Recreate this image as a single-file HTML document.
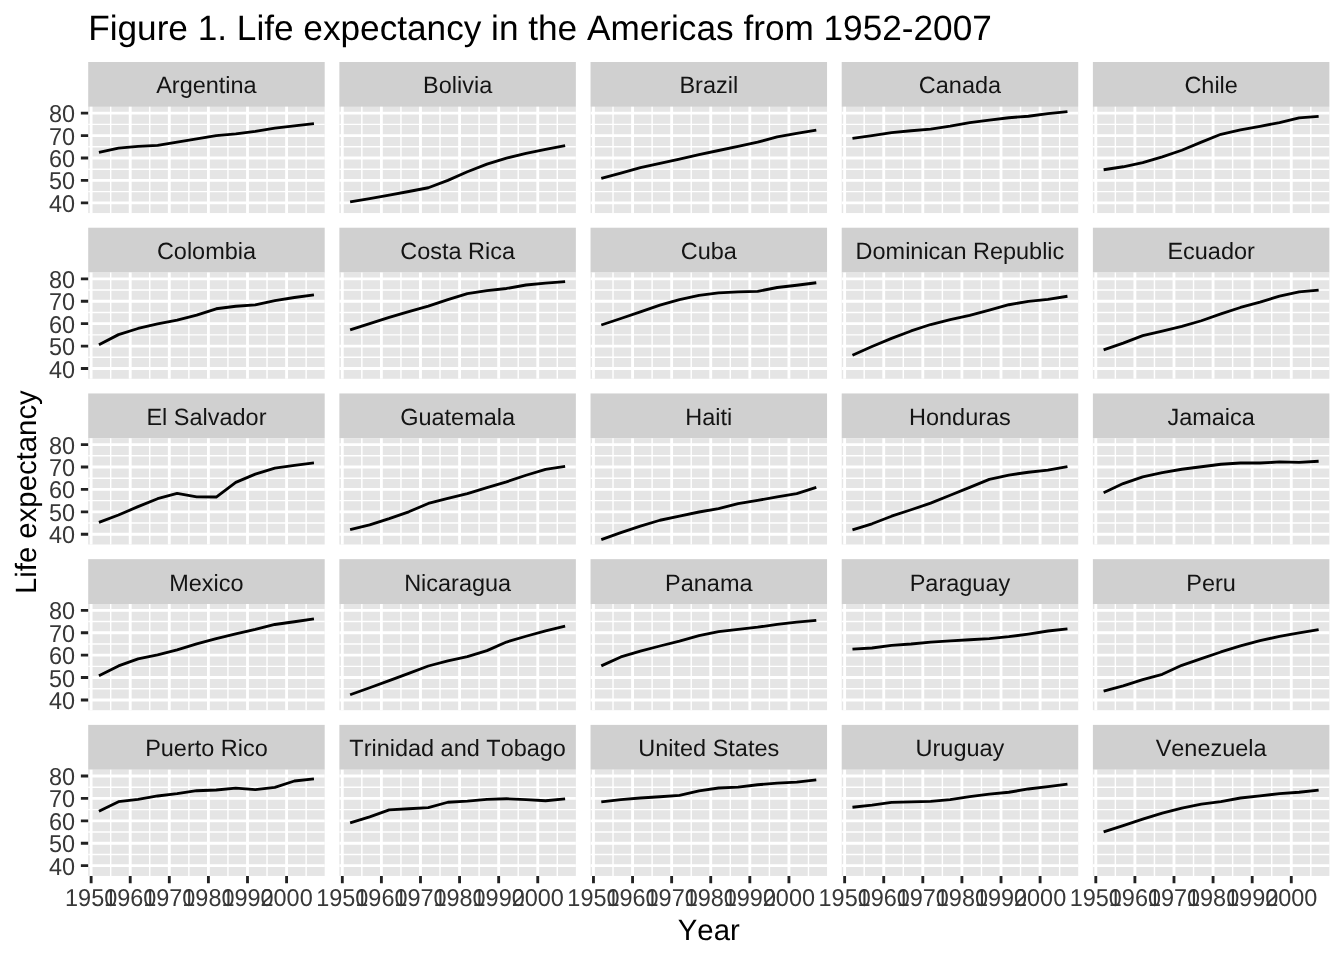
<!DOCTYPE html>
<html><head><meta charset="utf-8"><title>Figure 1. Life expectancy in the Americas from 1952-2007</title>
<style>
html,body{margin:0;padding:0;background:#fff;}
body{width:1344px;height:960px;overflow:hidden;}
svg{display:block;font-family:'Liberation Sans', Arial, Helvetica, sans-serif;will-change:transform;text-rendering:geometricPrecision;font-kerning:none;font-feature-settings:"kern" 0;}
</style></head><body>
<svg width="1344" height="960" viewBox="0 0 1344 960">
<rect x="0" y="0" width="1344" height="960" fill="#FFFFFF"/>
<text x="88.2" y="39.9" font-size="35.2" fill="#000">Figure 1. Life expectancy in the Americas from 1952-2007</text>
<g><rect x="88.2" y="62" width="236.5" height="44.85" fill="#D0D0D0"/><text x="206.45" y="93" font-size="23.47" fill="#141414" text-anchor="middle">Argentina</text><rect x="88.2" y="106.85" width="236.5" height="106.2" fill="#E5E5E5"/><path d="M88.2 191.59H324.7M88.2 169.18H324.7M88.2 146.76H324.7M88.2 124.35H324.7M110.68 106.85V213.05M149.77 106.85V213.05M188.86 106.85V213.05M227.95 106.85V213.05M267.04 106.85V213.05M306.13 106.85V213.05" stroke="#FFFFFF" stroke-width="1.42" fill="none"/><path d="M88.2 202.8H324.7M88.2 180.38H324.7M88.2 157.97H324.7M88.2 135.55H324.7M88.2 113.14H324.7M91.13 106.85V213.05M130.22 106.85V213.05M169.31 106.85V213.05M208.4 106.85V213.05M247.5 106.85V213.05M286.59 106.85V213.05" stroke="#FFFFFF" stroke-width="2.84" fill="none"/><polyline points="98.95,152.4 118.5,148.11 138.04,146.44 157.59,145.34 177.13,142.13 196.68,138.96 216.22,135.68 235.77,133.82 255.31,131.37 274.86,128.21 294.4,125.83 313.95,123.63" stroke="#000000" stroke-width="2.84" fill="none" stroke-linejoin="round" stroke-linecap="butt"/><text transform="translate(75 212) scale(1 1.04)" font-size="23.47" fill="#383838" text-anchor="end">40</text><text transform="translate(75 189) scale(1 1.04)" font-size="23.47" fill="#383838" text-anchor="end">50</text><text transform="translate(75 167) scale(1 1.04)" font-size="23.47" fill="#383838" text-anchor="end">60</text><text transform="translate(75 145) scale(1 1.04)" font-size="23.47" fill="#383838" text-anchor="end">70</text><text transform="translate(75 122) scale(1 1.04)" font-size="23.47" fill="#383838" text-anchor="end">80</text><path d="M80.87 202.8H88.2M80.87 180.38H88.2M80.87 157.97H88.2M80.87 135.55H88.2M80.87 113.14H88.2" stroke="#222222" stroke-width="2.84" fill="none"/></g>
<g><rect x="339.37" y="62" width="236.5" height="44.85" fill="#D0D0D0"/><text x="457.62" y="93" font-size="23.47" fill="#141414" text-anchor="middle">Bolivia</text><rect x="339.37" y="106.85" width="236.5" height="106.2" fill="#E5E5E5"/><path d="M339.37 191.59H575.87M339.37 169.18H575.87M339.37 146.76H575.87M339.37 124.35H575.87M361.85 106.85V213.05M400.94 106.85V213.05M440.03 106.85V213.05M479.12 106.85V213.05M518.21 106.85V213.05M557.3 106.85V213.05" stroke="#FFFFFF" stroke-width="1.42" fill="none"/><path d="M339.37 202.8H575.87M339.37 180.38H575.87M339.37 157.97H575.87M339.37 135.55H575.87M339.37 113.14H575.87M342.3 106.85V213.05M381.39 106.85V213.05M420.48 106.85V213.05M459.57 106.85V213.05M498.67 106.85V213.05M537.76 106.85V213.05" stroke="#FFFFFF" stroke-width="2.84" fill="none"/><polyline points="350.12,201.87 369.67,198.56 389.21,195.11 408.76,191.52 428.3,187.75 447.85,180.33 467.39,171.73 486.94,164.13 506.48,158.06 526.03,153.37 545.57,149.27 565.12,145.52" stroke="#000000" stroke-width="2.84" fill="none" stroke-linejoin="round" stroke-linecap="butt"/></g>
<g><rect x="590.54" y="62" width="236.5" height="44.85" fill="#D0D0D0"/><text x="708.79" y="93" font-size="23.47" fill="#141414" text-anchor="middle">Brazil</text><rect x="590.54" y="106.85" width="236.5" height="106.2" fill="#E5E5E5"/><path d="M590.54 191.59H827.04M590.54 169.18H827.04M590.54 146.76H827.04M590.54 124.35H827.04M613.02 106.85V213.05M652.11 106.85V213.05M691.2 106.85V213.05M730.29 106.85V213.05M769.38 106.85V213.05M808.47 106.85V213.05" stroke="#FFFFFF" stroke-width="1.42" fill="none"/><path d="M590.54 202.8H827.04M590.54 180.38H827.04M590.54 157.97H827.04M590.54 135.55H827.04M590.54 113.14H827.04M593.47 106.85V213.05M632.56 106.85V213.05M671.65 106.85V213.05M710.74 106.85V213.05M749.84 106.85V213.05M788.93 106.85V213.05" stroke="#FFFFFF" stroke-width="2.84" fill="none"/><polyline points="601.29,178.33 620.84,173.02 640.38,167.69 659.93,163.28 679.47,159.08 699.02,154.63 718.56,150.49 738.11,146.3 757.65,142.15 777.2,136.93 796.74,133.3 816.29,130.2" stroke="#000000" stroke-width="2.84" fill="none" stroke-linejoin="round" stroke-linecap="butt"/></g>
<g><rect x="841.71" y="62" width="236.5" height="44.85" fill="#D0D0D0"/><text x="959.96" y="93" font-size="23.47" fill="#141414" text-anchor="middle">Canada</text><rect x="841.71" y="106.85" width="236.5" height="106.2" fill="#E5E5E5"/><path d="M841.71 191.59H1078.21M841.71 169.18H1078.21M841.71 146.76H1078.21M841.71 124.35H1078.21M864.19 106.85V213.05M903.28 106.85V213.05M942.37 106.85V213.05M981.46 106.85V213.05M1020.55 106.85V213.05M1059.64 106.85V213.05" stroke="#FFFFFF" stroke-width="1.42" fill="none"/><path d="M841.71 202.8H1078.21M841.71 180.38H1078.21M841.71 157.97H1078.21M841.71 135.55H1078.21M841.71 113.14H1078.21M844.64 106.85V213.05M883.73 106.85V213.05M922.82 106.85V213.05M961.91 106.85V213.05M1001.01 106.85V213.05M1040.1 106.85V213.05" stroke="#FFFFFF" stroke-width="2.84" fill="none"/><polyline points="852.46,138.36 872.01,135.64 891.55,132.64 911.1,130.78 930.64,129.1 950.19,126.12 969.73,122.64 989.28,120.18 1008.82,117.74 1028.37,116.26 1047.91,113.66 1067.46,111.68" stroke="#000000" stroke-width="2.84" fill="none" stroke-linejoin="round" stroke-linecap="butt"/></g>
<g><rect x="1092.88" y="62" width="236.5" height="44.85" fill="#D0D0D0"/><text x="1211.13" y="93" font-size="23.47" fill="#141414" text-anchor="middle">Chile</text><rect x="1092.88" y="106.85" width="236.5" height="106.2" fill="#E5E5E5"/><path d="M1092.88 191.59H1329.38M1092.88 169.18H1329.38M1092.88 146.76H1329.38M1092.88 124.35H1329.38M1115.36 106.85V213.05M1154.45 106.85V213.05M1193.54 106.85V213.05M1232.63 106.85V213.05M1271.72 106.85V213.05M1310.81 106.85V213.05" stroke="#FFFFFF" stroke-width="1.42" fill="none"/><path d="M1092.88 202.8H1329.38M1092.88 180.38H1329.38M1092.88 157.97H1329.38M1092.88 135.55H1329.38M1092.88 113.14H1329.38M1095.81 106.85V213.05M1134.9 106.85V213.05M1173.99 106.85V213.05M1213.08 106.85V213.05M1252.18 106.85V213.05M1291.27 106.85V213.05" stroke="#FFFFFF" stroke-width="2.84" fill="none"/><polyline points="1103.63,169.75 1123.18,166.77 1142.72,162.62 1162.27,156.8 1181.81,150.26 1201.36,142.16 1220.9,134.29 1240.45,129.97 1259.99,126.31 1279.54,122.52 1299.08,117.94 1318.63,116.38" stroke="#000000" stroke-width="2.84" fill="none" stroke-linejoin="round" stroke-linecap="butt"/></g>
<g><rect x="88.2" y="227.72" width="236.5" height="44.85" fill="#D0D0D0"/><text x="206.45" y="259" font-size="23.47" fill="#141414" text-anchor="middle">Colombia</text><rect x="88.2" y="272.57" width="236.5" height="106.2" fill="#E5E5E5"/><path d="M88.2 357.31H324.7M88.2 334.9H324.7M88.2 312.48H324.7M88.2 290.07H324.7M110.68 272.57V378.77M149.77 272.57V378.77M188.86 272.57V378.77M227.95 272.57V378.77M267.04 272.57V378.77M306.13 272.57V378.77" stroke="#FFFFFF" stroke-width="1.42" fill="none"/><path d="M88.2 368.52H324.7M88.2 346.1H324.7M88.2 323.69H324.7M88.2 301.27H324.7M88.2 278.86H324.7M91.13 272.57V378.77M130.22 272.57V378.77M169.31 272.57V378.77M208.4 272.57V378.77M247.5 272.57V378.77M286.59 272.57V378.77" stroke="#FFFFFF" stroke-width="2.84" fill="none"/><polyline points="98.95,344.66 118.5,334.63 138.04,328.48 157.59,323.77 177.13,320.05 196.68,315.09 216.22,308.78 235.77,306.28 255.31,304.81 274.86,300.57 294.4,297.5 313.95,294.8" stroke="#000000" stroke-width="2.84" fill="none" stroke-linejoin="round" stroke-linecap="butt"/><text transform="translate(75 378) scale(1 1.04)" font-size="23.47" fill="#383838" text-anchor="end">40</text><text transform="translate(75 355) scale(1 1.04)" font-size="23.47" fill="#383838" text-anchor="end">50</text><text transform="translate(75 333) scale(1 1.04)" font-size="23.47" fill="#383838" text-anchor="end">60</text><text transform="translate(75 310) scale(1 1.04)" font-size="23.47" fill="#383838" text-anchor="end">70</text><text transform="translate(75 288) scale(1 1.04)" font-size="23.47" fill="#383838" text-anchor="end">80</text><path d="M80.87 368.52H88.2M80.87 346.1H88.2M80.87 323.69H88.2M80.87 301.27H88.2M80.87 278.86H88.2" stroke="#222222" stroke-width="2.84" fill="none"/></g>
<g><rect x="339.37" y="227.72" width="236.5" height="44.85" fill="#D0D0D0"/><text x="457.62" y="259" font-size="23.47" fill="#141414" text-anchor="middle">Costa Rica</text><rect x="339.37" y="272.57" width="236.5" height="106.2" fill="#E5E5E5"/><path d="M339.37 357.31H575.87M339.37 334.9H575.87M339.37 312.48H575.87M339.37 290.07H575.87M361.85 272.57V378.77M400.94 272.57V378.77M440.03 272.57V378.77M479.12 272.57V378.77M518.21 272.57V378.77M557.3 272.57V378.77" stroke="#FFFFFF" stroke-width="1.42" fill="none"/><path d="M339.37 368.52H575.87M339.37 346.1H575.87M339.37 323.69H575.87M339.37 301.27H575.87M339.37 278.86H575.87M342.3 272.57V378.77M381.39 272.57V378.77M420.48 272.57V378.77M459.57 272.57V378.77M498.67 272.57V378.77M537.76 272.57V378.77" stroke="#FFFFFF" stroke-width="2.84" fill="none"/><polyline points="350.12,329.95 369.67,323.63 389.21,317.32 408.76,311.53 428.3,306.1 447.85,299.59 467.39,293.54 486.94,290.62 506.48,288.47 526.03,285 545.57,283.07 565.12,281.59" stroke="#000000" stroke-width="2.84" fill="none" stroke-linejoin="round" stroke-linecap="butt"/></g>
<g><rect x="590.54" y="227.72" width="236.5" height="44.85" fill="#D0D0D0"/><text x="708.79" y="259" font-size="23.47" fill="#141414" text-anchor="middle">Cuba</text><rect x="590.54" y="272.57" width="236.5" height="106.2" fill="#E5E5E5"/><path d="M590.54 357.31H827.04M590.54 334.9H827.04M590.54 312.48H827.04M590.54 290.07H827.04M613.02 272.57V378.77M652.11 272.57V378.77M691.2 272.57V378.77M730.29 272.57V378.77M769.38 272.57V378.77M808.47 272.57V378.77" stroke="#FFFFFF" stroke-width="1.42" fill="none"/><path d="M590.54 368.52H827.04M590.54 346.1H827.04M590.54 323.69H827.04M590.54 301.27H827.04M590.54 278.86H827.04M593.47 272.57V378.77M632.56 272.57V378.77M671.65 272.57V378.77M710.74 272.57V378.77M749.84 272.57V378.77M788.93 272.57V378.77" stroke="#FFFFFF" stroke-width="2.84" fill="none"/><polyline points="601.29,324.99 620.84,318.48 640.38,311.93 659.93,305.11 679.47,299.65 699.02,295.34 718.56,292.94 738.11,291.92 757.65,291.38 777.2,287.49 796.74,285.23 816.29,282.73" stroke="#000000" stroke-width="2.84" fill="none" stroke-linejoin="round" stroke-linecap="butt"/></g>
<g><rect x="841.71" y="227.72" width="236.5" height="44.85" fill="#D0D0D0"/><text x="959.96" y="259" font-size="23.47" fill="#141414" text-anchor="middle">Dominican Republic</text><rect x="841.71" y="272.57" width="236.5" height="106.2" fill="#E5E5E5"/><path d="M841.71 357.31H1078.21M841.71 334.9H1078.21M841.71 312.48H1078.21M841.71 290.07H1078.21M864.19 272.57V378.77M903.28 272.57V378.77M942.37 272.57V378.77M981.46 272.57V378.77M1020.55 272.57V378.77M1059.64 272.57V378.77" stroke="#FFFFFF" stroke-width="1.42" fill="none"/><path d="M841.71 368.52H1078.21M841.71 346.1H1078.21M841.71 323.69H1078.21M841.71 301.27H1078.21M841.71 278.86H1078.21M844.64 272.57V378.77M883.73 272.57V378.77M922.82 272.57V378.77M961.91 272.57V378.77M1001.01 272.57V378.77M1040.1 272.57V378.77" stroke="#FFFFFF" stroke-width="2.84" fill="none"/><polyline points="852.46,355.23 872.01,346.49 891.55,338.35 911.1,330.97 930.64,324.52 950.19,319.68 969.73,315.33 989.28,310.14 1008.82,304.73 1028.37,301.37 1047.91,299.38 1067.46,296.27" stroke="#000000" stroke-width="2.84" fill="none" stroke-linejoin="round" stroke-linecap="butt"/></g>
<g><rect x="1092.88" y="227.72" width="236.5" height="44.85" fill="#D0D0D0"/><text x="1211.13" y="259" font-size="23.47" fill="#141414" text-anchor="middle">Ecuador</text><rect x="1092.88" y="272.57" width="236.5" height="106.2" fill="#E5E5E5"/><path d="M1092.88 357.31H1329.38M1092.88 334.9H1329.38M1092.88 312.48H1329.38M1092.88 290.07H1329.38M1115.36 272.57V378.77M1154.45 272.57V378.77M1193.54 272.57V378.77M1232.63 272.57V378.77M1271.72 272.57V378.77M1310.81 272.57V378.77" stroke="#FFFFFF" stroke-width="1.42" fill="none"/><path d="M1092.88 368.52H1329.38M1092.88 346.1H1329.38M1092.88 323.69H1329.38M1092.88 301.27H1329.38M1092.88 278.86H1329.38M1095.81 272.57V378.77M1134.9 272.57V378.77M1173.99 272.57V378.77M1213.08 272.57V378.77M1252.18 272.57V378.77M1291.27 272.57V378.77" stroke="#FFFFFF" stroke-width="2.84" fill="none"/><polyline points="1103.63,349.79 1123.18,343.06 1142.72,335.7 1162.27,331.13 1181.81,326.39 1201.36,320.75 1220.9,313.96 1240.45,307.48 1259.99,302.14 1279.54,296.09 1299.08,291.92 1318.63,290.08" stroke="#000000" stroke-width="2.84" fill="none" stroke-linejoin="round" stroke-linecap="butt"/></g>
<g><rect x="88.2" y="393.44" width="236.5" height="44.85" fill="#D0D0D0"/><text x="206.45" y="425" font-size="23.47" fill="#141414" text-anchor="middle">El Salvador</text><rect x="88.2" y="438.29" width="236.5" height="106.2" fill="#E5E5E5"/><path d="M88.2 523.03H324.7M88.2 500.62H324.7M88.2 478.2H324.7M88.2 455.79H324.7M110.68 438.29V544.49M149.77 438.29V544.49M188.86 438.29V544.49M227.95 438.29V544.49M267.04 438.29V544.49M306.13 438.29V544.49" stroke="#FFFFFF" stroke-width="1.42" fill="none"/><path d="M88.2 534.24H324.7M88.2 511.82H324.7M88.2 489.41H324.7M88.2 466.99H324.7M88.2 444.58H324.7M91.13 438.29V544.49M130.22 438.29V544.49M169.31 438.29V544.49M208.4 438.29V544.49M247.5 438.29V544.49M286.59 438.29V544.49" stroke="#FFFFFF" stroke-width="2.84" fill="none"/><polyline points="98.95,522.44 118.5,515.03 138.04,506.65 157.59,498.7 177.13,493.43 196.68,496.81 216.22,497.02 235.77,482.34 255.31,474.17 274.86,468.04 294.4,465.35 313.95,462.79" stroke="#000000" stroke-width="2.84" fill="none" stroke-linejoin="round" stroke-linecap="butt"/><text transform="translate(75 543) scale(1 1.04)" font-size="23.47" fill="#383838" text-anchor="end">40</text><text transform="translate(75 521) scale(1 1.04)" font-size="23.47" fill="#383838" text-anchor="end">50</text><text transform="translate(75 498) scale(1 1.04)" font-size="23.47" fill="#383838" text-anchor="end">60</text><text transform="translate(75 476) scale(1 1.04)" font-size="23.47" fill="#383838" text-anchor="end">70</text><text transform="translate(75 454) scale(1 1.04)" font-size="23.47" fill="#383838" text-anchor="end">80</text><path d="M80.87 534.24H88.2M80.87 511.82H88.2M80.87 489.41H88.2M80.87 466.99H88.2M80.87 444.58H88.2" stroke="#222222" stroke-width="2.84" fill="none"/></g>
<g><rect x="339.37" y="393.44" width="236.5" height="44.85" fill="#D0D0D0"/><text x="457.62" y="425" font-size="23.47" fill="#141414" text-anchor="middle">Guatemala</text><rect x="339.37" y="438.29" width="236.5" height="106.2" fill="#E5E5E5"/><path d="M339.37 523.03H575.87M339.37 500.62H575.87M339.37 478.2H575.87M339.37 455.79H575.87M361.85 438.29V544.49M400.94 438.29V544.49M440.03 438.29V544.49M479.12 438.29V544.49M518.21 438.29V544.49M557.3 438.29V544.49" stroke="#FFFFFF" stroke-width="1.42" fill="none"/><path d="M339.37 534.24H575.87M339.37 511.82H575.87M339.37 489.41H575.87M339.37 466.99H575.87M339.37 444.58H575.87M342.3 438.29V544.49M381.39 438.29V544.49M420.48 438.29V544.49M459.57 438.29V544.49M498.67 438.29V544.49M537.76 438.29V544.49" stroke="#FFFFFF" stroke-width="2.84" fill="none"/><polyline points="350.12,529.7 369.67,524.95 389.21,518.65 408.76,511.79 428.3,503.44 447.85,498.31 467.39,493.58 486.94,487.66 506.48,481.85 526.03,475.24 545.57,469.29 565.12,466.41" stroke="#000000" stroke-width="2.84" fill="none" stroke-linejoin="round" stroke-linecap="butt"/></g>
<g><rect x="590.54" y="393.44" width="236.5" height="44.85" fill="#D0D0D0"/><text x="708.79" y="425" font-size="23.47" fill="#141414" text-anchor="middle">Haiti</text><rect x="590.54" y="438.29" width="236.5" height="106.2" fill="#E5E5E5"/><path d="M590.54 523.03H827.04M590.54 500.62H827.04M590.54 478.2H827.04M590.54 455.79H827.04M613.02 438.29V544.49M652.11 438.29V544.49M691.2 438.29V544.49M730.29 438.29V544.49M769.38 438.29V544.49M808.47 438.29V544.49" stroke="#FFFFFF" stroke-width="1.42" fill="none"/><path d="M590.54 534.24H827.04M590.54 511.82H827.04M590.54 489.41H827.04M590.54 466.99H827.04M590.54 444.58H827.04M593.47 438.29V544.49M632.56 438.29V544.49M671.65 438.29V544.49M710.74 438.29V544.49M749.84 438.29V544.49M788.93 438.29V544.49" stroke="#FFFFFF" stroke-width="2.84" fill="none"/><polyline points="601.29,539.66 620.84,532.68 640.38,526.19 659.93,520.24 679.47,516.21 699.02,512 718.56,508.55 738.11,503.67 757.65,500.42 777.2,496.87 796.74,493.58 816.29,487.36" stroke="#000000" stroke-width="2.84" fill="none" stroke-linejoin="round" stroke-linecap="butt"/></g>
<g><rect x="841.71" y="393.44" width="236.5" height="44.85" fill="#D0D0D0"/><text x="959.96" y="425" font-size="23.47" fill="#141414" text-anchor="middle">Honduras</text><rect x="841.71" y="438.29" width="236.5" height="106.2" fill="#E5E5E5"/><path d="M841.71 523.03H1078.21M841.71 500.62H1078.21M841.71 478.2H1078.21M841.71 455.79H1078.21M864.19 438.29V544.49M903.28 438.29V544.49M942.37 438.29V544.49M981.46 438.29V544.49M1020.55 438.29V544.49M1059.64 438.29V544.49" stroke="#FFFFFF" stroke-width="1.42" fill="none"/><path d="M841.71 534.24H1078.21M841.71 511.82H1078.21M841.71 489.41H1078.21M841.71 466.99H1078.21M841.71 444.58H1078.21M844.64 438.29V544.49M883.73 438.29V544.49M922.82 438.29V544.49M961.91 438.29V544.49M1001.01 438.29V544.49M1040.1 438.29V544.49" stroke="#FFFFFF" stroke-width="2.84" fill="none"/><polyline points="852.46,529.95 872.01,523.78 891.55,516.21 911.1,509.75 930.64,503.12 950.19,495.23 969.73,487.37 989.28,479.34 1008.82,475.07 1028.37,472.24 1047.91,470.21 1067.46,466.55" stroke="#000000" stroke-width="2.84" fill="none" stroke-linejoin="round" stroke-linecap="butt"/></g>
<g><rect x="1092.88" y="393.44" width="236.5" height="44.85" fill="#D0D0D0"/><text x="1211.13" y="425" font-size="23.47" fill="#141414" text-anchor="middle">Jamaica</text><rect x="1092.88" y="438.29" width="236.5" height="106.2" fill="#E5E5E5"/><path d="M1092.88 523.03H1329.38M1092.88 500.62H1329.38M1092.88 478.2H1329.38M1092.88 455.79H1329.38M1115.36 438.29V544.49M1154.45 438.29V544.49M1193.54 438.29V544.49M1232.63 438.29V544.49M1271.72 438.29V544.49M1310.81 438.29V544.49" stroke="#FFFFFF" stroke-width="1.42" fill="none"/><path d="M1092.88 534.24H1329.38M1092.88 511.82H1329.38M1092.88 489.41H1329.38M1092.88 466.99H1329.38M1092.88 444.58H1329.38M1095.81 438.29V544.49M1134.9 438.29V544.49M1173.99 438.29V544.49M1213.08 438.29V544.49M1252.18 438.29V544.49M1291.27 438.29V544.49" stroke="#FFFFFF" stroke-width="2.84" fill="none"/><polyline points="1103.63,492.7 1123.18,483.56 1142.72,476.83 1162.27,472.58 1181.81,469.24 1201.36,466.75 1220.9,464.28 1240.45,463.03 1259.99,463.04 1279.54,461.92 1299.08,462.41 1318.63,461.24" stroke="#000000" stroke-width="2.84" fill="none" stroke-linejoin="round" stroke-linecap="butt"/></g>
<g><rect x="88.2" y="559.16" width="236.5" height="44.85" fill="#D0D0D0"/><text x="206.45" y="591" font-size="23.47" fill="#141414" text-anchor="middle">Mexico</text><rect x="88.2" y="604.01" width="236.5" height="106.2" fill="#E5E5E5"/><path d="M88.2 688.75H324.7M88.2 666.34H324.7M88.2 643.92H324.7M88.2 621.51H324.7M110.68 604.01V710.21M149.77 604.01V710.21M188.86 604.01V710.21M227.95 604.01V710.21M267.04 604.01V710.21M306.13 604.01V710.21" stroke="#FFFFFF" stroke-width="1.42" fill="none"/><path d="M88.2 699.96H324.7M88.2 677.54H324.7M88.2 655.13H324.7M88.2 632.71H324.7M88.2 610.3H324.7M91.13 604.01V710.21M130.22 604.01V710.21M169.31 604.01V710.21M208.4 604.01V710.21M247.5 604.01V710.21M286.59 604.01V710.21" stroke="#FFFFFF" stroke-width="2.84" fill="none"/><polyline points="98.95,675.77 118.5,665.91 138.04,658.94 157.59,654.88 177.13,649.84 196.68,643.85 216.22,638.53 235.77,633.84 255.31,629.45 274.86,624.49 294.4,621.73 313.95,618.83" stroke="#000000" stroke-width="2.84" fill="none" stroke-linejoin="round" stroke-linecap="butt"/><text transform="translate(75 709) scale(1 1.04)" font-size="23.47" fill="#383838" text-anchor="end">40</text><text transform="translate(75 687) scale(1 1.04)" font-size="23.47" fill="#383838" text-anchor="end">50</text><text transform="translate(75 664) scale(1 1.04)" font-size="23.47" fill="#383838" text-anchor="end">60</text><text transform="translate(75 642) scale(1 1.04)" font-size="23.47" fill="#383838" text-anchor="end">70</text><text transform="translate(75 619) scale(1 1.04)" font-size="23.47" fill="#383838" text-anchor="end">80</text><path d="M80.87 699.96H88.2M80.87 677.54H88.2M80.87 655.13H88.2M80.87 632.71H88.2M80.87 610.3H88.2" stroke="#222222" stroke-width="2.84" fill="none"/></g>
<g><rect x="339.37" y="559.16" width="236.5" height="44.85" fill="#D0D0D0"/><text x="457.62" y="591" font-size="23.47" fill="#141414" text-anchor="middle">Nicaragua</text><rect x="339.37" y="604.01" width="236.5" height="106.2" fill="#E5E5E5"/><path d="M339.37 688.75H575.87M339.37 666.34H575.87M339.37 643.92H575.87M339.37 621.51H575.87M361.85 604.01V710.21M400.94 604.01V710.21M440.03 604.01V710.21M479.12 604.01V710.21M518.21 604.01V710.21M557.3 604.01V710.21" stroke="#FFFFFF" stroke-width="1.42" fill="none"/><path d="M339.37 699.96H575.87M339.37 677.54H575.87M339.37 655.13H575.87M339.37 632.71H575.87M339.37 610.3H575.87M342.3 604.01V710.21M381.39 604.01V710.21M420.48 604.01V710.21M459.57 604.01V710.21M498.67 604.01V710.21M537.76 604.01V710.21" stroke="#FFFFFF" stroke-width="2.84" fill="none"/><polyline points="350.12,694.77 369.67,687.78 389.21,680.61 408.76,673.32 428.3,666 447.85,660.8 467.39,656.7 486.94,650.63 506.48,642.03 526.03,636.24 545.57,630.84 565.12,626.22" stroke="#000000" stroke-width="2.84" fill="none" stroke-linejoin="round" stroke-linecap="butt"/></g>
<g><rect x="590.54" y="559.16" width="236.5" height="44.85" fill="#D0D0D0"/><text x="708.79" y="591" font-size="23.47" fill="#141414" text-anchor="middle">Panama</text><rect x="590.54" y="604.01" width="236.5" height="106.2" fill="#E5E5E5"/><path d="M590.54 688.75H827.04M590.54 666.34H827.04M590.54 643.92H827.04M590.54 621.51H827.04M613.02 604.01V710.21M652.11 604.01V710.21M691.2 604.01V710.21M730.29 604.01V710.21M769.38 604.01V710.21M808.47 604.01V710.21" stroke="#FFFFFF" stroke-width="1.42" fill="none"/><path d="M590.54 699.96H827.04M590.54 677.54H827.04M590.54 655.13H827.04M590.54 632.71H827.04M590.54 610.3H827.04M593.47 604.01V710.21M632.56 604.01V710.21M671.65 604.01V710.21M710.74 604.01V710.21M749.84 604.01V710.21M788.93 604.01V710.21" stroke="#FFFFFF" stroke-width="2.84" fill="none"/><polyline points="601.29,665.91 620.84,656.92 640.38,651.06 659.93,646 679.47,641.2 699.02,635.67 718.56,631.66 738.11,629.3 757.65,627.2 777.2,624.34 796.74,622.15 816.29,620.3" stroke="#000000" stroke-width="2.84" fill="none" stroke-linejoin="round" stroke-linecap="butt"/></g>
<g><rect x="841.71" y="559.16" width="236.5" height="44.85" fill="#D0D0D0"/><text x="959.96" y="591" font-size="23.47" fill="#141414" text-anchor="middle">Paraguay</text><rect x="841.71" y="604.01" width="236.5" height="106.2" fill="#E5E5E5"/><path d="M841.71 688.75H1078.21M841.71 666.34H1078.21M841.71 643.92H1078.21M841.71 621.51H1078.21M864.19 604.01V710.21M903.28 604.01V710.21M942.37 604.01V710.21M981.46 604.01V710.21M1020.55 604.01V710.21M1059.64 604.01V710.21" stroke="#FFFFFF" stroke-width="1.42" fill="none"/><path d="M841.71 699.96H1078.21M841.71 677.54H1078.21M841.71 655.13H1078.21M841.71 632.71H1078.21M841.71 610.3H1078.21M844.64 604.01V710.21M883.73 604.01V710.21M922.82 604.01V710.21M961.91 604.01V710.21M1001.01 604.01V710.21M1040.1 604.01V710.21" stroke="#FFFFFF" stroke-width="2.84" fill="none"/><polyline points="852.46,649.19 872.01,647.97 891.55,645.35 911.1,644.03 930.64,642.09 950.19,640.89 969.73,639.72 989.28,638.59 1008.82,636.69 1028.37,634.06 1047.91,631.02 1067.46,628.79" stroke="#000000" stroke-width="2.84" fill="none" stroke-linejoin="round" stroke-linecap="butt"/></g>
<g><rect x="1092.88" y="559.16" width="236.5" height="44.85" fill="#D0D0D0"/><text x="1211.13" y="591" font-size="23.47" fill="#141414" text-anchor="middle">Peru</text><rect x="1092.88" y="604.01" width="236.5" height="106.2" fill="#E5E5E5"/><path d="M1092.88 688.75H1329.38M1092.88 666.34H1329.38M1092.88 643.92H1329.38M1092.88 621.51H1329.38M1115.36 604.01V710.21M1154.45 604.01V710.21M1193.54 604.01V710.21M1232.63 604.01V710.21M1271.72 604.01V710.21M1310.81 604.01V710.21" stroke="#FFFFFF" stroke-width="1.42" fill="none"/><path d="M1092.88 699.96H1329.38M1092.88 677.54H1329.38M1092.88 655.13H1329.38M1092.88 632.71H1329.38M1092.88 610.3H1329.38M1095.81 604.01V710.21M1134.9 604.01V710.21M1173.99 604.01V710.21M1213.08 604.01V710.21M1252.18 604.01V710.21M1291.27 604.01V710.21" stroke="#FFFFFF" stroke-width="2.84" fill="none"/><polyline points="1103.63,691.21 1123.18,685.92 1142.72,679.57 1162.27,674.3 1181.81,665.33 1201.36,658.61 1220.9,651.98 1240.45,645.86 1259.99,640.65 1279.54,636.33 1299.08,632.93 1318.63,629.53" stroke="#000000" stroke-width="2.84" fill="none" stroke-linejoin="round" stroke-linecap="butt"/></g>
<g><rect x="88.2" y="724.88" width="236.5" height="44.85" fill="#D0D0D0"/><text x="206.45" y="756" font-size="23.47" fill="#141414" text-anchor="middle">Puerto Rico</text><rect x="88.2" y="769.73" width="236.5" height="106.2" fill="#E5E5E5"/><path d="M88.2 854.47H324.7M88.2 832.06H324.7M88.2 809.64H324.7M88.2 787.23H324.7M110.68 769.73V875.93M149.77 769.73V875.93M188.86 769.73V875.93M227.95 769.73V875.93M267.04 769.73V875.93M306.13 769.73V875.93" stroke="#FFFFFF" stroke-width="1.42" fill="none"/><path d="M88.2 865.68H324.7M88.2 843.26H324.7M88.2 820.85H324.7M88.2 798.43H324.7M88.2 776.02H324.7M91.13 769.73V875.93M130.22 769.73V875.93M169.31 769.73V875.93M208.4 769.73V875.93M247.5 769.73V875.93M286.59 769.73V875.93" stroke="#FFFFFF" stroke-width="2.84" fill="none"/><polyline points="98.95,811.26 118.5,801.71 138.04,799.29 157.59,795.97 177.13,793.59 196.68,790.72 216.22,790.03 235.77,788.06 255.31,789.67 274.86,787.41 294.4,781 313.95,778.83" stroke="#000000" stroke-width="2.84" fill="none" stroke-linejoin="round" stroke-linecap="butt"/><text transform="translate(75 875) scale(1 1.04)" font-size="23.47" fill="#383838" text-anchor="end">40</text><text transform="translate(75 852) scale(1 1.04)" font-size="23.47" fill="#383838" text-anchor="end">50</text><text transform="translate(75 830) scale(1 1.04)" font-size="23.47" fill="#383838" text-anchor="end">60</text><text transform="translate(75 807) scale(1 1.04)" font-size="23.47" fill="#383838" text-anchor="end">70</text><text transform="translate(75 785) scale(1 1.04)" font-size="23.47" fill="#383838" text-anchor="end">80</text><path d="M80.87 865.68H88.2M80.87 843.26H88.2M80.87 820.85H88.2M80.87 798.43H88.2M80.87 776.02H88.2" stroke="#222222" stroke-width="2.84" fill="none"/><text transform="translate(91.13 906) scale(1 1.04)" font-size="23.47" fill="#383838" text-anchor="middle">1950</text><text transform="translate(130.22 906) scale(1 1.04)" font-size="23.47" fill="#383838" text-anchor="middle">1960</text><text transform="translate(169.31 906) scale(1 1.04)" font-size="23.47" fill="#383838" text-anchor="middle">1970</text><text transform="translate(208.4 906) scale(1 1.04)" font-size="23.47" fill="#383838" text-anchor="middle">1980</text><text transform="translate(247.5 906) scale(1 1.04)" font-size="23.47" fill="#383838" text-anchor="middle">1990</text><text transform="translate(286.59 906) scale(1 1.04)" font-size="23.47" fill="#383838" text-anchor="middle">2000</text><path d="M91.13 875.93V883.26M130.22 875.93V883.26M169.31 875.93V883.26M208.4 875.93V883.26M247.5 875.93V883.26M286.59 875.93V883.26" stroke="#222222" stroke-width="2.84" fill="none"/></g>
<g><rect x="339.37" y="724.88" width="236.5" height="44.85" fill="#D0D0D0"/><text x="457.62" y="756" font-size="23.47" fill="#141414" text-anchor="middle">Trinidad and Tobago</text><rect x="339.37" y="769.73" width="236.5" height="106.2" fill="#E5E5E5"/><path d="M339.37 854.47H575.87M339.37 832.06H575.87M339.37 809.64H575.87M339.37 787.23H575.87M361.85 769.73V875.93M400.94 769.73V875.93M440.03 769.73V875.93M479.12 769.73V875.93M518.21 769.73V875.93M557.3 769.73V875.93" stroke="#FFFFFF" stroke-width="1.42" fill="none"/><path d="M339.37 865.68H575.87M339.37 843.26H575.87M339.37 820.85H575.87M339.37 798.43H575.87M339.37 776.02H575.87M342.3 769.73V875.93M381.39 769.73V875.93M420.48 769.73V875.93M459.57 769.73V875.93M498.67 769.73V875.93M537.76 769.73V875.93" stroke="#FFFFFF" stroke-width="2.84" fill="none"/><polyline points="350.12,822.87 369.67,816.81 389.21,809.87 408.76,808.75 428.3,807.62 447.85,802.25 467.39,801.05 486.94,799.37 506.48,798.74 526.03,799.63 545.57,800.73 565.12,798.84" stroke="#000000" stroke-width="2.84" fill="none" stroke-linejoin="round" stroke-linecap="butt"/><text transform="translate(342.3 906) scale(1 1.04)" font-size="23.47" fill="#383838" text-anchor="middle">1950</text><text transform="translate(381.39 906) scale(1 1.04)" font-size="23.47" fill="#383838" text-anchor="middle">1960</text><text transform="translate(420.48 906) scale(1 1.04)" font-size="23.47" fill="#383838" text-anchor="middle">1970</text><text transform="translate(459.57 906) scale(1 1.04)" font-size="23.47" fill="#383838" text-anchor="middle">1980</text><text transform="translate(498.67 906) scale(1 1.04)" font-size="23.47" fill="#383838" text-anchor="middle">1990</text><text transform="translate(537.76 906) scale(1 1.04)" font-size="23.47" fill="#383838" text-anchor="middle">2000</text><path d="M342.3 875.93V883.26M381.39 875.93V883.26M420.48 875.93V883.26M459.57 875.93V883.26M498.67 875.93V883.26M537.76 875.93V883.26" stroke="#222222" stroke-width="2.84" fill="none"/></g>
<g><rect x="590.54" y="724.88" width="236.5" height="44.85" fill="#D0D0D0"/><text x="708.79" y="756" font-size="23.47" fill="#141414" text-anchor="middle">United States</text><rect x="590.54" y="769.73" width="236.5" height="106.2" fill="#E5E5E5"/><path d="M590.54 854.47H827.04M590.54 832.06H827.04M590.54 809.64H827.04M590.54 787.23H827.04M613.02 769.73V875.93M652.11 769.73V875.93M691.2 769.73V875.93M730.29 769.73V875.93M769.38 769.73V875.93M808.47 769.73V875.93" stroke="#FFFFFF" stroke-width="1.42" fill="none"/><path d="M590.54 865.68H827.04M590.54 843.26H827.04M590.54 820.85H827.04M590.54 798.43H827.04M590.54 776.02H827.04M593.47 769.73V875.93M632.56 769.73V875.93M671.65 769.73V875.93M710.74 769.73V875.93M749.84 769.73V875.93M788.93 769.73V875.93" stroke="#FFFFFF" stroke-width="2.84" fill="none"/><polyline points="601.29,801.93 620.84,799.58 640.38,797.96 659.93,796.73 679.47,795.43 699.02,790.86 718.56,788.01 738.11,787.18 757.65,784.78 777.2,783.17 796.74,782.05 816.29,779.96" stroke="#000000" stroke-width="2.84" fill="none" stroke-linejoin="round" stroke-linecap="butt"/><text transform="translate(593.47 906) scale(1 1.04)" font-size="23.47" fill="#383838" text-anchor="middle">1950</text><text transform="translate(632.56 906) scale(1 1.04)" font-size="23.47" fill="#383838" text-anchor="middle">1960</text><text transform="translate(671.65 906) scale(1 1.04)" font-size="23.47" fill="#383838" text-anchor="middle">1970</text><text transform="translate(710.74 906) scale(1 1.04)" font-size="23.47" fill="#383838" text-anchor="middle">1980</text><text transform="translate(749.84 906) scale(1 1.04)" font-size="23.47" fill="#383838" text-anchor="middle">1990</text><text transform="translate(788.93 906) scale(1 1.04)" font-size="23.47" fill="#383838" text-anchor="middle">2000</text><path d="M593.47 875.93V883.26M632.56 875.93V883.26M671.65 875.93V883.26M710.74 875.93V883.26M749.84 875.93V883.26M788.93 875.93V883.26" stroke="#222222" stroke-width="2.84" fill="none"/></g>
<g><rect x="841.71" y="724.88" width="236.5" height="44.85" fill="#D0D0D0"/><text x="959.96" y="756" font-size="23.47" fill="#141414" text-anchor="middle">Uruguay</text><rect x="841.71" y="769.73" width="236.5" height="106.2" fill="#E5E5E5"/><path d="M841.71 854.47H1078.21M841.71 832.06H1078.21M841.71 809.64H1078.21M841.71 787.23H1078.21M864.19 769.73V875.93M903.28 769.73V875.93M942.37 769.73V875.93M981.46 769.73V875.93M1020.55 769.73V875.93M1059.64 769.73V875.93" stroke="#FFFFFF" stroke-width="1.42" fill="none"/><path d="M841.71 865.68H1078.21M841.71 843.26H1078.21M841.71 820.85H1078.21M841.71 798.43H1078.21M841.71 776.02H1078.21M844.64 769.73V875.93M883.73 769.73V875.93M922.82 769.73V875.93M961.91 769.73V875.93M1001.01 769.73V875.93M1040.1 769.73V875.93" stroke="#FFFFFF" stroke-width="2.84" fill="none"/><polyline points="852.46,807.24 872.01,805.06 891.55,802.35 911.1,801.87 930.64,801.41 950.19,799.6 969.73,796.63 989.28,794.14 1008.82,792.27 1028.37,788.97 1047.91,786.54 1067.46,784.13" stroke="#000000" stroke-width="2.84" fill="none" stroke-linejoin="round" stroke-linecap="butt"/><text transform="translate(844.64 906) scale(1 1.04)" font-size="23.47" fill="#383838" text-anchor="middle">1950</text><text transform="translate(883.73 906) scale(1 1.04)" font-size="23.47" fill="#383838" text-anchor="middle">1960</text><text transform="translate(922.82 906) scale(1 1.04)" font-size="23.47" fill="#383838" text-anchor="middle">1970</text><text transform="translate(961.91 906) scale(1 1.04)" font-size="23.47" fill="#383838" text-anchor="middle">1980</text><text transform="translate(1001.01 906) scale(1 1.04)" font-size="23.47" fill="#383838" text-anchor="middle">1990</text><text transform="translate(1040.1 906) scale(1 1.04)" font-size="23.47" fill="#383838" text-anchor="middle">2000</text><path d="M844.64 875.93V883.26M883.73 875.93V883.26M922.82 875.93V883.26M961.91 875.93V883.26M1001.01 875.93V883.26M1040.1 875.93V883.26" stroke="#222222" stroke-width="2.84" fill="none"/></g>
<g><rect x="1092.88" y="724.88" width="236.5" height="44.85" fill="#D0D0D0"/><text x="1211.13" y="756" font-size="23.47" fill="#141414" text-anchor="middle">Venezuela</text><rect x="1092.88" y="769.73" width="236.5" height="106.2" fill="#E5E5E5"/><path d="M1092.88 854.47H1329.38M1092.88 832.06H1329.38M1092.88 809.64H1329.38M1092.88 787.23H1329.38M1115.36 769.73V875.93M1154.45 769.73V875.93M1193.54 769.73V875.93M1232.63 769.73V875.93M1271.72 769.73V875.93M1310.81 769.73V875.93" stroke="#FFFFFF" stroke-width="1.42" fill="none"/><path d="M1092.88 865.68H1329.38M1092.88 843.26H1329.38M1092.88 820.85H1329.38M1092.88 798.43H1329.38M1092.88 776.02H1329.38M1095.81 769.73V875.93M1134.9 769.73V875.93M1173.99 769.73V875.93M1213.08 769.73V875.93M1252.18 769.73V875.93M1291.27 769.73V875.93" stroke="#FFFFFF" stroke-width="2.84" fill="none"/><polyline points="1103.63,831.86 1123.18,825.54 1142.72,819.12 1162.27,813.05 1181.81,808.05 1201.36,804.14 1220.9,801.67 1240.45,798.01 1259.99,795.86 1279.54,793.62 1299.08,792.24 1318.63,790.04" stroke="#000000" stroke-width="2.84" fill="none" stroke-linejoin="round" stroke-linecap="butt"/><text transform="translate(1095.81 906) scale(1 1.04)" font-size="23.47" fill="#383838" text-anchor="middle">1950</text><text transform="translate(1134.9 906) scale(1 1.04)" font-size="23.47" fill="#383838" text-anchor="middle">1960</text><text transform="translate(1173.99 906) scale(1 1.04)" font-size="23.47" fill="#383838" text-anchor="middle">1970</text><text transform="translate(1213.08 906) scale(1 1.04)" font-size="23.47" fill="#383838" text-anchor="middle">1980</text><text transform="translate(1252.18 906) scale(1 1.04)" font-size="23.47" fill="#383838" text-anchor="middle">1990</text><text transform="translate(1291.27 906) scale(1 1.04)" font-size="23.47" fill="#383838" text-anchor="middle">2000</text><path d="M1095.81 875.93V883.26M1134.9 875.93V883.26M1173.99 875.93V883.26M1213.08 875.93V883.26M1252.18 875.93V883.26M1291.27 875.93V883.26" stroke="#222222" stroke-width="2.84" fill="none"/></g>
<text x="708.79" y="939.8" font-size="29.33" fill="#000" text-anchor="middle">Year</text>
<text transform="translate(35.6 492.19) rotate(-90)" x="0" y="0" font-size="29.33" fill="#000" text-anchor="middle">Life expectancy</text>
</svg>
</body></html>
